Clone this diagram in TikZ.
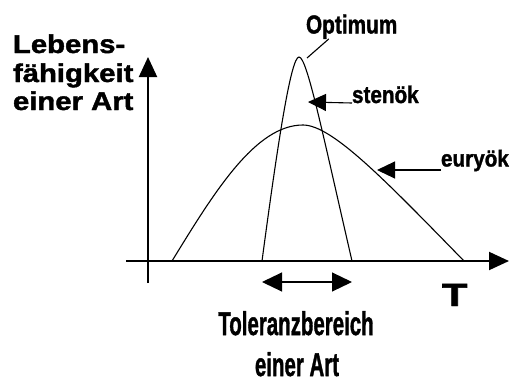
\documentclass[tikz,border=0pt]{standalone}
\usepackage{fontspec}
\setmainfont{Liberation Sans}[BoldFeatures={FakeBold=1.5}]
\usepackage{graphicx}
\usepackage{tikz}
\usetikzlibrary{arrows.meta,positioning,calc}

\begin{document}
\begin{tikzpicture}[
    x=1pt, y=-1pt,
    axis/.style={line width=2pt,-{Triangle[length=20pt,width=18pt]}},
    curve/.style={line width=1.1pt},
    pointer/.style={line width=1.1pt,-{Triangle[length=18pt,width=17pt]}},
    span/.style={line width=1.1pt,{Triangle[length=20pt,width=19pt]}-{Triangle[length=20pt,width=19pt]}},
    lbl/.style={inner sep=0pt,outer sep=0pt,font=\bfseries},
    wide/.style={lbl,font=\fontsize{24.4}{28}\selectfont\bfseries},
    narrow/.style={lbl,font=\fontsize{33}{36}\selectfont\bfseries},
    small/.style={lbl,font=\fontsize{23}{26}\selectfont\bfseries},
  ]
  \useasboundingbox (0,0) rectangle (511,383);

  % --- axes ---
  \coordinate (ybot)   at (148,283);
  \coordinate (ytop)   at (148,57);
  \coordinate (xleft)  at (126,261);
  \coordinate (xright) at (509,261);
  \draw[axis] (ybot) -- (ytop);
  \draw[axis] (xleft) -- (xright);

  % --- euryoek: broad curve ---
  \draw[curve] (172,261) sin (303,125)
    .. controls (332,125) and (385,180) .. (464,261);

  % --- stenoek: narrow curve ---
  \draw[curve] (262,261) .. controls (278,141) and (291,57) .. (299,57)
    .. controls (307,57) and (322,131) .. (352,261);

  % --- labels ---
  \node[wide,anchor=base west] (lebens) at (13,53)  {\scalebox{1.2}[1.05]{Lebens-}};
  \node[wide,anchor=base west] (faehig) at (13,82)  {\scalebox{1.2}[1.05]{fähigkeit}};
  \node[wide,anchor=base west] (einer)  at (13,110) {\scalebox{1.2}[1.05]{einer Art}};

  \node[lbl,font=\fontsize{26}{28}\selectfont\bfseries,anchor=base west]
    (optimum) at (306,33.5) {\scalebox{0.8}[1]{Optimum}};
  \node[small,anchor=base west] (stenoek) at (352,103)   {\scalebox{0.9}[1.05]{stenök}};
  \node[small,anchor=base west] (euryoek) at (441,166.5) {\scalebox{0.9}[1]{euryök}};

  \node[lbl,font=\fontsize{32}{34}\selectfont\bfseries,anchor=base west]
    (tlabel) at (442,306) {\scalebox{1.3}[1]{T}};

  \node[narrow,anchor=base] (toleranz) at (296,335) {\scalebox{0.62}[1]{Toleranzbereich}};
  \node[narrow,anchor=base] (tolart)   at (297,376) {\scalebox{0.62}[1]{einer Art}};

  % --- pointers ---
  \coordinate (optfoot) at (307,58);
  \coordinate (stentip) at (308,102);
  \coordinate (eurytip) at (377,170);
  \draw[curve] (optfoot) -- ($(optimum.south west)!0.25!(optimum.south east)$);
  \draw[pointer] (stenoek.base west) -- (stentip);
  \draw[pointer] ([yshift=-3.5pt]euryoek.base west) -- (eurytip);

  % --- tolerance range ---
  \coordinate (tolL) at (262,282);
  \coordinate (tolR) at (352,282);
  \draw[span] (tolL) -- (tolR);

\end{tikzpicture}
\end{document}
